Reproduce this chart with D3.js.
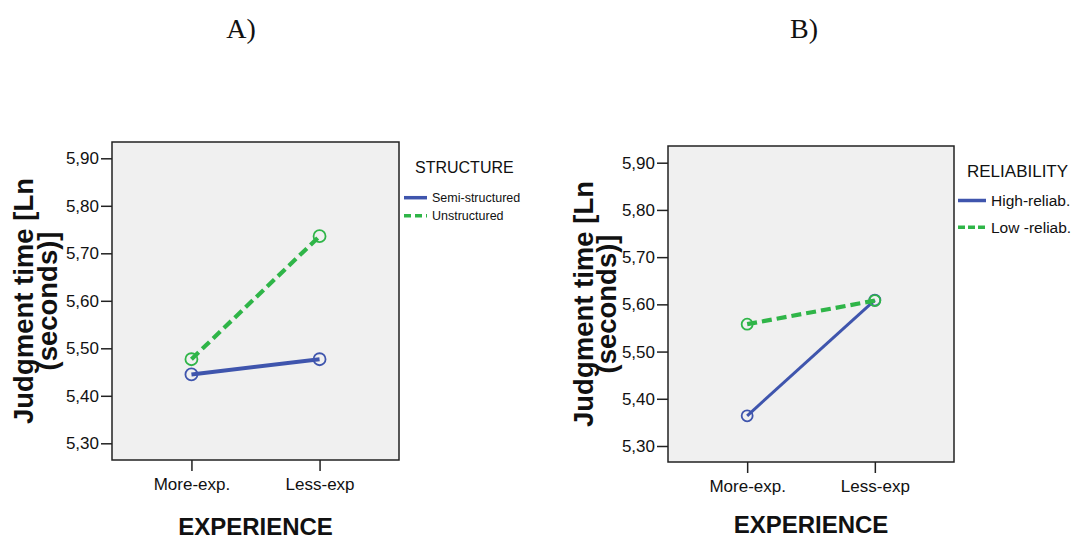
<!DOCTYPE html>
<html>
<head>
<meta charset="utf-8">
<script src="https://cdn.jsdelivr.net/npm/d3@7"></script>
<style>
  html, body { margin: 0; padding: 0; background: #fff; }
  svg { display: block; font-family: "Liberation Sans", Arial, sans-serif; }
</style>
</head>
<body>
<svg id="chart" width="1073" height="539"></svg>
<script>
// Experience levels on the x axis (shared by both panels)
const experienceLevels = ["More-exp.", "Less-exp"];
// Y axis ticks (log seconds)
const yTickValues = [5.30, 5.40, 5.50, 5.60, 5.70, 5.80, 5.90];

// Panel A: interview structure
const structureSeriesNames = ["Semi-structured", "Unstructured"];
const semiStructuredMeans = [5.445, 5.477];
const unstructuredMeans = [5.477, 5.736];

// Panel B: reliability of the information
const reliabilitySeriesNames = ["High-reliab.", "Low -reliab."];
const highReliabMeans = [5.364, 5.609];
const lowReliabMeans = [5.558, 5.608];

const BLUE = "#3f55ad";
const GREEN = "#2fb548";

const svg = d3.select("#chart");
const commaFormat = d3.formatLocale({ decimal: ",", thousands: ".", grouping: [3], currency: ["", ""] }).format(".2f");

function drawPanel(cfg) {
  const g = svg.append("g");
  const { box } = cfg;

  const x = d3.scalePoint()
    .domain(experienceLevels)
    .range([box.left, box.right])
    .padding(0.62);

  const y = d3.scaleLinear()
    .domain([5.30, 5.90])
    .range([cfg.y530, cfg.y590]);

  // plot area
  g.append("rect")
    .attr("x", box.left).attr("y", box.top)
    .attr("width", box.right - box.left).attr("height", box.bottom - box.top)
    .attr("fill", "#f0f0f0")
    .attr("stroke", "#222").attr("stroke-width", 1.5);

  // y axis
  const yAxis = d3.axisLeft(y).tickValues(yTickValues).tickSize(11).tickPadding(2)
    .tickFormat(commaFormat);
  const ya = g.append("g").attr("transform", `translate(${box.left},0)`).call(yAxis);
  ya.select(".domain").remove();
  ya.selectAll(".tick line").attr("stroke", "#222").attr("stroke-width", 1.5);
  ya.selectAll(".tick text").attr("fill", "#111").attr("font-size", 17)
    .attr("font-family", "'Liberation Sans', Arial, sans-serif");

  // x axis
  const xAxis = d3.axisBottom(x).tickSize(11).tickPadding(7);
  const xa = g.append("g").attr("transform", `translate(0,${box.bottom})`).call(xAxis);
  xa.select(".domain").remove();
  xa.selectAll(".tick line").attr("stroke", "#222").attr("stroke-width", 1.5);
  xa.selectAll(".tick text").attr("fill", "#111").attr("font-size", 17)
    .attr("font-family", "'Liberation Sans', Arial, sans-serif");

  // x axis title
  g.append("text")
    .attr("x", (box.left + box.right) / 2).attr("y", cfg.xTitleY)
    .attr("text-anchor", "middle")
    .attr("font-size", 24).attr("font-weight", "bold").attr("fill", "#111")
    .text("EXPERIENCE");

  // y axis title, two lines
  const cy = (box.top + box.bottom) / 2;
  [["Judgment time [Ln", cfg.yTitleX1], ["(seconds)]", cfg.yTitleX2]].forEach(([t, bx]) => {
    g.append("text")
      .attr("transform", `translate(${bx},${cy}) rotate(-90)`)
      .attr("text-anchor", "middle")
      .attr("font-size", 27.5).attr("font-weight", "bold").attr("fill", "#111")
      .text(t);
  });

  // series lines and markers
  const line = d3.line().x((d, i) => x(experienceLevels[i])).y(d => y(d));
  cfg.series.forEach(s => {
    g.append("path")
      .datum(s.values)
      .attr("d", line)
      .attr("fill", "none")
      .attr("stroke", s.color)
      .attr("stroke-width", s.dashed ? cfg.dashWidth : cfg.lineWidth)
      .attr("stroke-dasharray", s.dashed ? cfg.dash : null);
    g.selectAll(null)
      .data(s.values)
      .join("circle")
      .attr("cx", (d, i) => x(experienceLevels[i]))
      .attr("cy", d => y(d))
      .attr("r", cfg.markerR)
      .attr("fill", "none")
      .attr("stroke", s.color)
      .attr("stroke-width", 1.8);
  });

  // legend
  const lg = cfg.legend;
  g.append("text")
    .attr("x", lg.x + lg.titleDx).attr("y", lg.titleY)
    .attr("font-size", lg.titleSize).attr("fill", "#111")
    .text(lg.title);
  cfg.series.forEach((s, i) => {
    const ly = lg.itemY[i];
    g.append("line")
      .attr("x1", lg.x).attr("x2", lg.x + lg.swatchW)
      .attr("y1", ly).attr("y2", ly)
      .attr("stroke", s.color).attr("stroke-width", 3.5)
      .attr("stroke-dasharray", s.dashed ? lg.dash : null);
    g.append("text")
      .attr("x", lg.x + lg.swatchW + 5).attr("y", ly)
      .attr("dy", "0.36em")
      .attr("font-size", lg.itemSize).attr("fill", "#111")
      .text(s.name);
  });

  // panel caption
  g.append("text")
    .attr("x", cfg.caption.x).attr("y", cfg.caption.y)
    .attr("text-anchor", "middle")
    .attr("font-family", "'Liberation Serif', 'Times New Roman', serif")
    .attr("font-size", 28).attr("fill", "#111")
    .text(cfg.caption.text);
}

drawPanel({
  box: { left: 112, right: 399, top: 142, bottom: 460 },
  y530: 443.3, y590: 158.3,
  xTitleY: 535,
  yTitleX1: 33, yTitleX2: 57,
  lineWidth: 4, dashWidth: 4.2, dash: "10,5", markerR: 6,
  caption: { text: "A)", x: 241, y: 38 },
  series: [
    { name: structureSeriesNames[0], values: semiStructuredMeans, color: BLUE, dashed: false },
    { name: structureSeriesNames[1], values: unstructuredMeans, color: GREEN, dashed: true }
  ],
  legend: { x: 404, swatchW: 23, titleDx: 11, title: "STRUCTURE", titleY: 172.5, titleSize: 16,
            itemY: [197.7, 215.7], itemSize: 12.5, dash: "7,4" }
});

drawPanel({
  box: { left: 668, right: 954, top: 146, bottom: 462 },
  y530: 446, y590: 162.7,
  xTitleY: 533,
  yTitleX1: 593, yTitleX2: 616,
  lineWidth: 3, dashWidth: 4.2, dash: "10,5", markerR: 5.5,
  caption: { text: "B)", x: 804, y: 38 },
  series: [
    { name: reliabilitySeriesNames[0], values: highReliabMeans, color: BLUE, dashed: false },
    { name: reliabilitySeriesNames[1], values: lowReliabMeans, color: GREEN, dashed: true }
  ],
  legend: { x: 958, swatchW: 28, titleDx: 9, title: "RELIABILITY", titleY: 176.5, titleSize: 17,
            itemY: [200.5, 227.3], itemSize: 15.5, dash: "7,3" }
});
</script>
</body>
</html>
